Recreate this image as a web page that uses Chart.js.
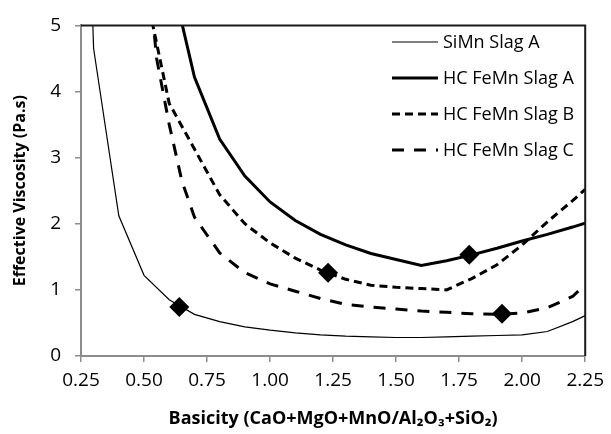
<!DOCTYPE html>
<html>
<head>
<meta charset="utf-8">
<script src="https://cdn.jsdelivr.net/npm/chart.js@4.4.1/dist/chart.umd.min.js"></script>
<style>
  html, body { margin: 0; padding: 0; background: #fff; }
  #wrap { width: 611px; height: 434px; }
</style>
</head>
<body>
<div id="wrap"><canvas id="viscChart" width="611" height="434"></canvas></div>
<script>
// basicity values (x) and effective viscosity (Pa.s) for each slag
const xSiMnA = [0.25, 0.3, 0.4, 0.5, 0.6, 0.7, 0.8, 0.9, 1.0, 1.1, 1.2, 1.3, 1.4, 1.5, 1.6, 1.7, 1.8, 1.9, 2.0, 2.1, 2.2, 2.25];
const ySiMnA = [10.5, 4.65, 2.12, 1.22, 0.85, 0.63, 0.52, 0.44, 0.39, 0.35, 0.32, 0.30, 0.29, 0.28, 0.28, 0.29, 0.30, 0.31, 0.32, 0.37, 0.52, 0.61];

const xFeMnA = [0.6, 0.7, 0.8, 0.9, 1.0, 1.1, 1.2, 1.3, 1.4, 1.5, 1.6, 1.7, 1.8, 1.9, 2.0, 2.1, 2.2, 2.25];
const yFeMnA = [5.85, 4.22, 3.28, 2.72, 2.33, 2.05, 1.84, 1.68, 1.55, 1.46, 1.37, 1.44, 1.53, 1.63, 1.74, 1.84, 1.95, 2.01];

const xFeMnB = [0.5, 0.6, 0.7, 0.8, 0.9, 1.0, 1.1, 1.2, 1.3, 1.4, 1.5, 1.6, 1.7, 1.8, 1.9, 2.0, 2.1, 2.2, 2.25];
const yFeMnB = [5.64, 3.82, 3.13, 2.44, 2.00, 1.71, 1.48, 1.30, 1.16, 1.07, 1.04, 1.02, 1.00, 1.17, 1.38, 1.68, 2.03, 2.35, 2.52];

const xFeMnC = [0.5, 0.55, 0.6, 0.65, 0.7, 0.8, 0.9, 1.0, 1.1, 1.2, 1.3, 1.4, 1.5, 1.6, 1.7, 1.8, 1.9, 2.0, 2.1, 2.2, 2.25];
const yFeMnC = [6.5, 4.5, 3.5, 2.65, 2.1, 1.56, 1.26, 1.09, 0.98, 0.87, 0.78, 0.74, 0.71, 0.68, 0.66, 0.64, 0.63, 0.65, 0.73, 0.90, 1.08];

// measured slag compositions (diamonds)
const xMarkers = [0.64, 1.79, 1.23, 1.92];
const yMarkers = [0.74, 1.53, 1.26, 0.64];

const seriesNames = ['SiMn Slag A', 'HC FeMn Slag A', 'HC FeMn Slag B', 'HC FeMn Slag C'];

function toPoints(xs, ys) {
    return xs.map((x, i) => ({ x: x, y: ys[i] }));
}

const FONT = "'Open Sans', 'Noto Sans', 'DejaVu Sans', sans-serif";

function lineSet(label, xs, ys, width, dash) {
    return {
        label: label,
        data: toPoints(xs, ys),
        borderColor: '#000',
        backgroundColor: '#000',
        borderWidth: width,
        borderDash: dash,
        pointRadius: 0,
        tension: 0,
        showLine: true,
        fill: false
    };
}

// frame on top and right + legend inside the plot
const framePlugin = {
    id: 'frameAndLegend',
    afterDatasetsDraw(chart) {
        const ctx = chart.ctx;
        const a = chart.chartArea;
        ctx.save();
        ctx.strokeStyle = '#1a1a1a';
        ctx.lineWidth = 2;
        ctx.setLineDash([]);
        ctx.beginPath();
        ctx.moveTo(a.left, a.top);
        ctx.lineTo(a.right, a.top);
        ctx.lineTo(a.right, a.bottom);
        ctx.stroke();

        const lx0 = 392, lx1 = 438, tx = 443;
        const rows = [42, 78, 114, 150];
        ctx.font = '18px ' + FONT;
        ctx.fillStyle = '#000';
        ctx.textBaseline = 'middle';
        seriesNames.forEach((name, i) => {
            const ds = chart.data.datasets[i + 1];
            ctx.strokeStyle = '#000';
            ctx.lineWidth = ds.borderWidth;
            ctx.setLineDash(ds.borderDash || []);
            ctx.beginPath();
            ctx.moveTo(lx0, rows[i]);
            ctx.lineTo(lx1, rows[i]);
            ctx.stroke();
            ctx.setLineDash([]);
            ctx.fillText(name, tx, rows[i] + 1);
        });
        ctx.restore();
    }
};

const ctx = document.getElementById('viscChart').getContext('2d');

const config = {
    type: 'scatter',
    data: {
        datasets: [
            {
                label: 'markers',
                data: toPoints(xMarkers, yMarkers),
                pointStyle: 'rectRot',
                pointRadius: 10,
                pointHoverRadius: 10,
                backgroundColor: '#000',
                borderColor: '#000',
                borderWidth: 0,
                showLine: false,
                order: -1
            },
            lineSet(seriesNames[0], xSiMnA, ySiMnA, 1.2, []),
            lineSet(seriesNames[1], xFeMnA, yFeMnA, 3, []),
            lineSet(seriesNames[2], xFeMnB, yFeMnB, 3, [8, 5]),
            lineSet(seriesNames[3], xFeMnC, yFeMnC, 3, [12, 10])
        ]
    },
    options: {
        responsive: false,
        animation: false,
        layout: { padding: { top: 13, right: 19, bottom: 0, left: 0 } },
        plugins: {
            legend: { display: false },
            tooltip: { enabled: false }
        },
        scales: {
            x: {
                type: 'linear',
                min: 0.25,
                max: 2.25,
                ticks: {
                    stepSize: 0.25,
                    color: '#000',
                    padding: 7,
                    maxRotation: 0,
                    font: { family: FONT, size: 19 },
                    callback: v => v.toFixed(2)
                },
                grid: { drawOnChartArea: false, drawTicks: true, tickLength: 6, color: '#8c8c8c', lineWidth: 1.5 },
                border: { color: '#8c8c8c', width: 2 },
                title: {
                    display: true,
                    text: 'Basicity (CaO+MgO+MnO/Al\u2082O\u2083+SiO\u2082)',
                    color: '#000',
                    font: { family: FONT, size: 18, weight: 'bold' },
                    padding: { top: 0, bottom: 4 }
                },
                afterFit: s => { s.height = 78; }
            },
            y: {
                min: 0,
                max: 5,
                ticks: {
                    stepSize: 1,
                    color: '#000',
                    padding: 14,
                    font: { family: FONT, size: 19 }
                },
                grid: { drawOnChartArea: false, drawTicks: true, tickLength: 6, color: '#8c8c8c', lineWidth: 1.5 },
                border: { color: '#8c8c8c', width: 2 },
                title: {
                    display: true,
                    text: 'Effective Viscosity (Pa.s)',
                    color: '#000',
                    font: { family: FONT, size: 16, weight: 'bold' },
                    padding: { top: 11, bottom: 0 }
                },
                afterFit: s => { s.width = 81; }
            }
        }
    },
    plugins: [framePlugin]
};

const viscChart = new Chart(ctx, config);
</script>
</body>
</html>
